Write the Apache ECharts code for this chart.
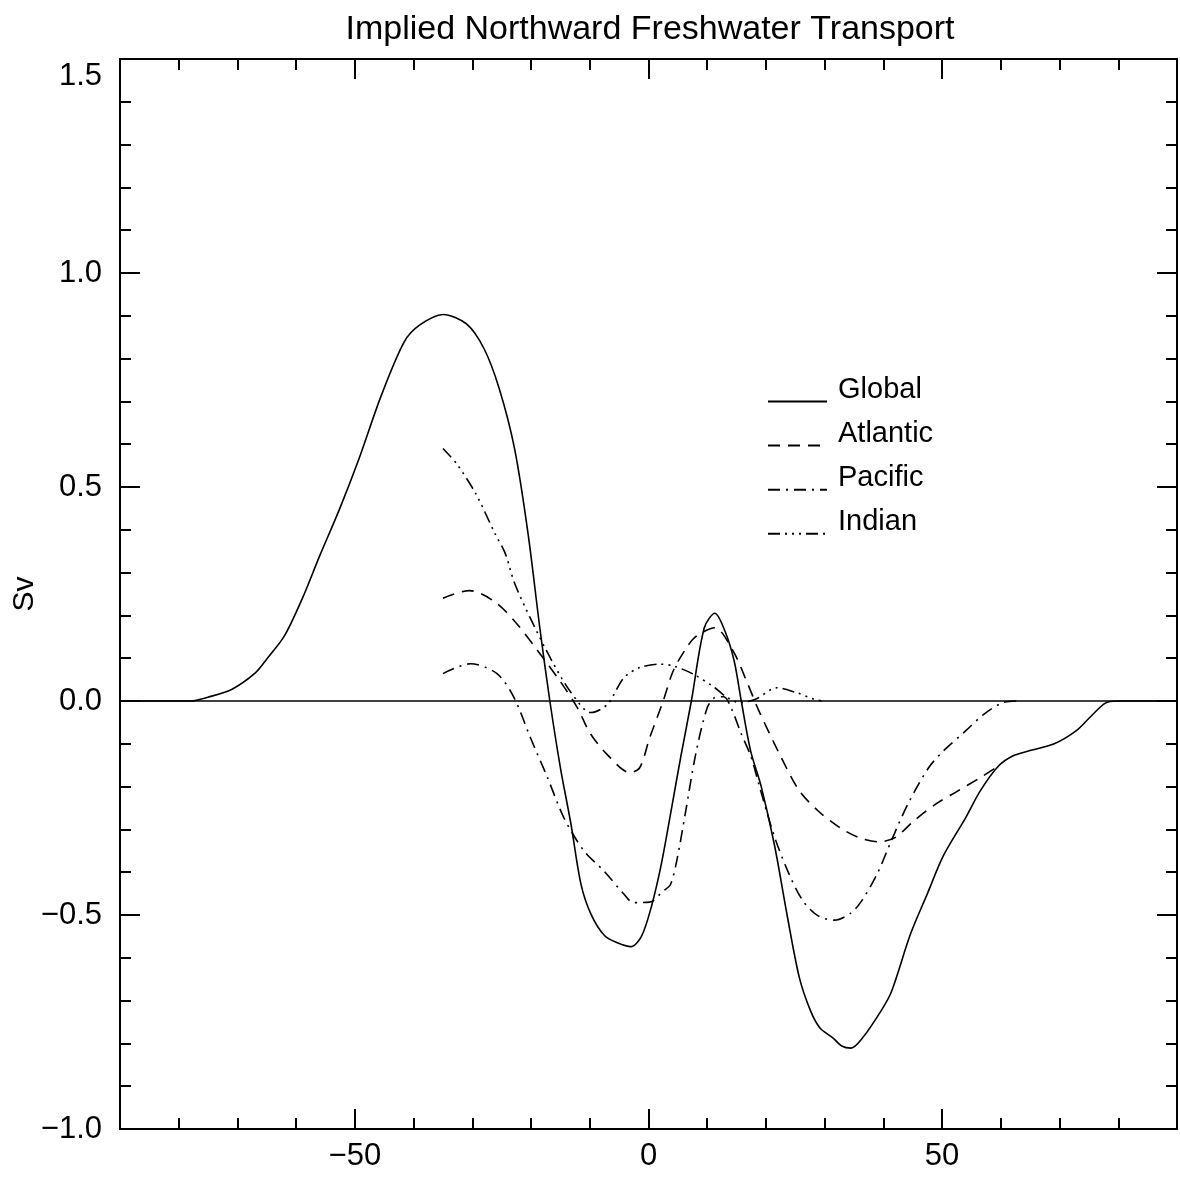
<!DOCTYPE html>
<html>
<head>
<meta charset="utf-8">
<script src="https://cdn.jsdelivr.net/npm/echarts@6/dist/echarts.min.js"></script>
<style>
  html, body { margin: 0; background: #fff; }
  #chart { width: 1180px; height: 1180px; }
</style>
</head>
<body>
<div id="chart"></div>
<script>
// latitude (deg) and transport (Sv)
var globalLat = [-90, -78, -75, -71, -67, -65, -62, -59, -56, -52.6, -49.3, -45.5, -41.6, -39, -35, -31, -28, -25.4, -22.8, -20.5, -18.5, -16.8, -15, -13.2, -11.5, -9.8, -7.5, -5.3, -3, -1.2, 0.5, 2.2, 4, 5.5, 7.3, 9.5, 11.3, 13, 14.6, 15.8, 17.4, 19.2, 21.5, 23.6, 25.7, 27.6, 29.2, 31.4, 32.9, 34.5, 36.3, 39.6, 41.4, 44.6, 47.5, 50.2, 54, 56.5, 59.6, 62.1, 64.7, 69.1, 72.8, 75.4, 77.8, 79.7, 90];
var globalSv = [0, 0, 0.009, 0.027, 0.065, 0.098, 0.152, 0.238, 0.339, 0.449, 0.566, 0.714, 0.839, 0.878, 0.903, 0.881, 0.823, 0.729, 0.589, 0.39, 0.17, 0, -0.156, -0.288, -0.428, -0.498, -0.548, -0.565, -0.574, -0.55, -0.48, -0.38, -0.245, -0.13, 0, 0.171, 0.205, 0.164, 0.093, 0, -0.117, -0.2, -0.34, -0.5, -0.647, -0.724, -0.764, -0.787, -0.806, -0.811, -0.79, -0.724, -0.678, -0.545, -0.45, -0.362, -0.273, -0.21, -0.152, -0.128, -0.117, -0.1, -0.07, -0.035, -0.005, 0, 0];

var atlanticLat = [-35, -30.5, -26, -22.4, -19, -15, -12.1, -10, -7.1, -3.2, -1.5, 0.2, 2.5, 4.2, 6.5, 8.2, 11.3, 14.4, 16.9, 18.8, 22.6, 25.7, 28.9, 32.6, 35.8, 39.2, 42, 45.2, 48.9, 52.7, 56.5, 59.6];
var atlanticSv = [0.24, 0.258, 0.23, 0.18, 0.12, 0.045, -0.016, -0.074, -0.124, -0.167, -0.156, -0.086, 0, 0.07, 0.125, 0.152, 0.171, 0.117, 0.04, -0.023, -0.132, -0.21, -0.257, -0.296, -0.319, -0.329, -0.319, -0.28, -0.241, -0.21, -0.179, -0.152];

var pacificLat = [-35, -30.3, -25.8, -22.9, -20.1, -17.2, -14.4, -11, -7.6, -4.2, -2.6, 0.2, 2.5, 3.7, 4.8, 6.3, 8.1, 10, 11.3, 12.8, 14.2, 15.6, 17.5, 18.8, 21.3, 23.8, 26.3, 28.9, 31.7, 34.5, 36.3, 38.9, 41.4, 44.2, 47.7, 50.2, 54, 57.1, 60.3, 62.8];
var pacificSv = [0.064, 0.087, 0.064, 0.008, -0.086, -0.179, -0.273, -0.35, -0.397, -0.451, -0.471, -0.47, -0.444, -0.43, -0.374, -0.26, -0.12, -0.016, 0.008, 0.01, -0.02, -0.07, -0.132, -0.195, -0.311, -0.4, -0.467, -0.502, -0.512, -0.495, -0.467, -0.405, -0.325, -0.24, -0.156, -0.117, -0.07, -0.031, -0.004, 0];

var indianLat = [-35, -32.6, -29.4, -26.1, -24.4, -22.8, -20, -16.5, -13.2, -9.8, -7, -4.2, -1.5, 1.9, 4.2, 7.6, 11.3, 13.4, 15.6, 18.2, 21.9, 25.1, 28.2, 29.5];
var indianSv = [0.59, 0.553, 0.484, 0.39, 0.345, 0.275, 0.19, 0.095, 0.02, -0.027, -0.008, 0.054, 0.078, 0.086, 0.082, 0.063, 0.031, 0.008, -0.004, 0.004, 0.031, 0.02, 0.004, 0];

var xMajorTicks = [-50, 0, 50];
var xMinorTicks = [-80, -70, -60, -40, -30, -20, -10, 10, 20, 30, 40, 60, 70, 80];

var font = 'Liberation Sans, Arial, sans-serif';

function pairs(xs, ys) {
  return xs.map(function (x, i) { return [x, ys[i]]; });
}
function minus(s) {
  return String(s).replace('-', '\u2212');
}

function xAx(position, major) {
  return {
    type: 'value', min: -90, max: 90, position: position,
    axisLine: { show: true, onZero: false, lineStyle: { color: '#000', width: 2 } },
    axisTick: { show: true, inside: true, length: major ? 20 : 11,
      customValues: major ? xMajorTicks : xMinorTicks,
      lineStyle: { color: '#000', width: 2 } },
    axisLabel: { show: major && position === 'bottom', customValues: xMajorTicks,
      margin: 12, color: '#000', fontSize: 31, fontFamily: font,
      formatter: function (v) { return minus(v); } },
    splitLine: { show: false }
  };
}

function yAx(position) {
  var left = position === 'left';
  return {
    type: 'value', min: -1, max: 1.5, interval: 0.5, position: position,
    name: left ? 'Sv' : '', nameLocation: 'middle', nameRotate: 90, nameGap: 80,
    nameMoveOverlap: false,
    nameTextStyle: { color: '#000', fontSize: 30, fontFamily: font },
    axisLine: { show: true, onZero: false, lineStyle: { color: '#000', width: 2 } },
    axisTick: { show: true, inside: true, length: 20, lineStyle: { color: '#000', width: 2 } },
    minorTick: { show: true, splitNumber: 5, length: 11, lineStyle: { color: '#000', width: 2 } },
    axisLabel: { show: left, margin: 18, color: '#000', fontSize: 31, fontFamily: font,
      formatter: function (v) {
        var s = minus(v.toFixed(1));
        return v === 1.5 ? '{top|' + s + '}' : s;
      },
      rich: { top: { fontSize: 31, fontFamily: font, color: '#000', padding: [34, 0, 0, 0] } } },
    splitLine: { show: false }
  };
}

var line = function (name, xs, ys, dash, extra) {
  var s = {
    name: name, type: 'line', data: pairs(xs, ys),
    symbol: 'none', smooth: 0.3, xAxisIndex: 0, yAxisIndex: 0,
    lineStyle: { color: '#000', width: 1.6, type: dash },
    itemStyle: { color: '#000' }
  };
  return Object.assign(s, extra || {});
};

var chart = echarts.init(document.getElementById('chart'));
chart.setOption({
  backgroundColor: '#fff',
  animation: false,
  title: {
    text: 'Implied Northward Freshwater Transport',
    left: 645, top: 8, textAlign: 'center',
    textStyle: { color: '#000', fontSize: 34, fontWeight: 'normal', fontFamily: font }
  },
  legend: {
    orient: 'vertical', left: 767, top: 375, padding: 0,
    itemWidth: 59, itemHeight: 14, itemGap: 12,
    itemStyle: { color: 'transparent', borderWidth: 0, opacity: 0 },
    formatter: '{n|{name}}',
    textStyle: { color: '#000', fontSize: 29, fontFamily: font,
      rich: { n: { fontSize: 29, fontFamily: font, color: '#000', padding: [0, 0, 24, 6] } } },
    data: ['Global', 'Atlantic', 'Pacific', 'Indian']
  },
  grid: { left: 120, right: 3, top: 59, bottom: 51, outerBoundsMode: 'none' },
  xAxis: [xAx('bottom', true), xAx('bottom', false), xAx('top', true), xAx('top', false)],
  yAxis: [yAx('left'), yAx('right')],
  series: [
    line('Global', globalLat, globalSv, 'solid', {
      markLine: {
        silent: true, symbol: ['none', 'none'], label: { show: false },
        lineStyle: { color: '#000', type: 'solid', width: 1.6 },
        data: [{ yAxis: 0 }]
      }
    }),
    line('Atlantic', atlanticLat, atlanticSv, [12, 8]),
    line('Pacific', pacificLat, pacificSv, [12, 6, 2, 6]),
    line('Indian', indianLat, indianSv, [12, 5, 2, 5, 2, 5, 2, 5])
  ]
});
</script>
</body>
</html>
